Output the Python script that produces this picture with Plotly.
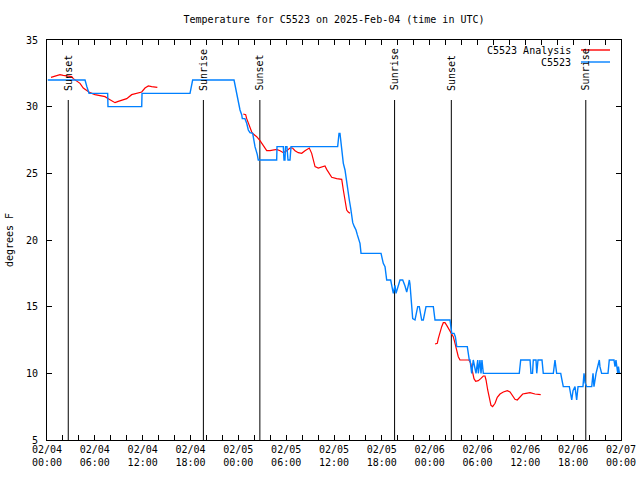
import pandas as pd
import plotly.graph_objects as go

BASE = pd.Timestamp("2025-02-04 00:00")

# C5523 observations: hours since 2025-02-04 00:00 UTC, temperature (F)
obs_hours = [0.1, 4.77, 5.0, 5.27, 7.61, 7.65, 11.88, 11.92, 17.94, 18.15, 18.27, 23.46,
             23.58, 23.79, 23.92, 24.05, 24.21, 24.42, 24.50, 24.83, 25.05, 25.25, 25.46, 25.80,
             26.09, 26.38, 26.5, 28.81, 28.85, 29.64, 29.73, 29.85, 29.92, 30.1, 30.23, 30.48,
             30.61, 36.46, 36.63, 36.75, 36.97, 37.17, 37.38, 37.51, 37.67, 37.79, 37.92, 38.09,
             38.22, 38.35, 38.55, 38.76, 38.92, 39.14, 39.26, 39.39, 41.9, 41.99, 42.18, 42.40,
             42.52, 42.61, 43.11, 43.24, 43.36, 43.44, 43.65, 43.78, 44.28, 44.62, 44.91, 45.12,
             45.32, 45.45, 45.53, 45.75, 45.87, 46.16, 46.37, 46.5, 46.7, 46.91, 47.0, 47.2,
             47.41, 47.54, 48.46, 48.58, 48.67, 50.55, 50.64, 50.77, 51.06, 51.22, 51.4, 52.72,
             52.97, 53.06, 53.27, 53.47, 53.81, 54.03, 54.1, 54.31, 54.44, 54.56, 54.73, 59.24,
             59.42, 60.59, 60.71, 60.9, 61.0, 61.34, 61.43, 61.59, 62.09, 62.25, 63.51, 63.72,
             63.93, 64.44, 64.56, 64.76, 65.52, 65.61, 65.82, 65.98, 66.23, 66.44, 66.61, 67.23,
             67.36, 67.49, 67.70, 68.33, 68.49, 68.61, 68.87, 69.28, 69.36, 69.57, 70.37, 70.53,
             71.12, 71.25, 71.37, 71.59, 71.68, 71.8, 72.0]
obs_temp = [32, 32, 31.5, 31, 31, 30, 30, 31, 31, 31.6, 32, 32,
            31.6, 31.1, 30.6, 30.25, 29.75, 29.4, 29.1, 29.1, 28.75, 28.25, 28.05, 28.0,
            27.0, 26.4, 26.0, 26, 27, 27, 26, 26, 27, 27, 26, 26,
            27, 27, 28, 28, 26.5, 25.75, 25.25, 24.6, 24.0, 23.6, 23.0, 22.4,
            21.9, 21.3, 21.0, 20.75, 20.4, 20.0, 19.75, 19.0, 19, 18.75, 18.25, 18.0,
            17.5, 17.0, 17, 16.5, 16.0, 16, 16.6, 16, 17, 17, 16.55, 16.1,
            16.6, 17, 16.7, 14.75, 14.1, 14, 14.75, 15, 15, 14.4, 14, 14,
            14.75, 15, 15, 14.5, 14, 14, 13.4, 13, 13, 12.75, 12, 12,
            11, 11, 10, 11, 10, 11, 10, 11, 10, 11, 10, 10,
            11, 11, 10, 10, 11, 11, 10, 11, 11, 10, 10, 11,
            10, 10, 9.6, 9, 9, 8.6, 8, 8.7, 9, 8, 9, 9,
            10, 9.3, 9, 9, 10, 9, 10, 11, 10.5, 10, 10, 11,
            11, 10.5, 11, 10, 10.5, 10, 10]

# C5523 Analysis: three separate runs
ana1_hours = [0.5, 1.0, 1.63, 2.04, 2.47, 3.1, 3.3, 3.73, 4.14, 4.55, 4.98, 5.39, 6.02, 6.65,
              7.28, 7.69, 8.12, 8.53, 8.94, 9.37, 10.0, 10.62, 11.25, 11.88, 12.29, 12.71,
              13.13, 13.84]
ana1_temp = [32.2, 32.3, 32.4, 32.35, 32.3, 32.25, 32.1, 31.95, 31.75, 31.4, 31.25, 31.05,
             30.9, 30.8, 30.75, 30.6, 30.45, 30.3, 30.4, 30.5, 30.6, 30.9, 31.0, 31.1, 31.4,
             31.55, 31.5, 31.45]
ana2_hours = [24.62, 24.92, 25.05, 25.25, 25.46, 25.68, 25.88, 26.3, 26.72, 27.13, 27.56,
              27.97, 28.39, 28.81, 29.23, 29.64, 30.07, 30.48, 30.8, 31.11, 31.52, 31.95,
              32.36, 32.9, 33.2, 33.4, 33.62, 34.03, 34.46, 34.87, 35.08, 35.5, 35.71, 36.34,
              36.97, 37.17, 37.38, 37.59, 37.79, 38.0]
ana2_temp = [29.45, 29.4, 29.1, 28.75, 28.4, 28.1, 27.95, 27.75, 27.45, 27.1, 26.7, 26.7,
             26.75, 26.8, 26.7, 26.55, 26.7, 26.9, 26.9, 26.7, 26.55, 26.5, 26.7, 26.9, 26.5,
             26.0, 25.5, 25.4, 25.5, 25.55, 25.3, 24.95, 24.7, 24.6, 24.55, 23.75, 22.9,
             22.25, 22.1, 22.0]
ana3_hours = [48.67, 48.96, 49.08, 49.3, 49.51, 49.71, 49.92, 50.14, 50.34, 50.55, 50.76,
              50.96, 51.18, 51.39, 51.59, 51.8, 52.22, 52.64, 52.93, 53.15, 53.35, 53.56,
              53.77, 54.1, 54.4, 54.73, 54.94, 55.07, 55.28, 55.48, 55.69, 55.9, 56.2, 56.48,
              56.82, 57.24, 57.74, 58.08, 58.42, 58.7, 58.99, 59.33, 59.67, 60.08, 60.59,
              61.21, 61.63, 61.93]
ana3_temp = [12.2, 12.25, 12.6, 13.1, 13.5, 13.8, 13.8, 13.6, 13.4, 13.1, 12.95, 12.75,
             12.25, 11.6, 11.25, 11.0, 11.0, 11.05, 11.0, 10.75, 10.1, 9.6, 9.4, 9.45, 9.6,
             9.8, 9.8, 9.5, 8.75, 8.1, 7.6, 7.5, 7.75, 8.2, 8.45, 8.6, 8.7, 8.6, 8.3, 8.05,
             8.0, 8.2, 8.45, 8.5, 8.55, 8.45, 8.4, 8.4]

sun_labels = ["Sunset", "Sunrise", "Sunset", "Sunrise", "Sunset", "Sunrise"]
sun_times = ["2025-02-04 02:40", "2025-02-04 19:37", "2025-02-05 02:42",
             "2025-02-05 19:36", "2025-02-06 02:43", "2025-02-06 19:35"]
SUN_LINE_TOP = 30.5

tick_times = pd.date_range("2025-02-04 00:00", "2025-02-07 00:00", freq="6h")
y_ticks = [5, 10, 15, 20, 25, 30, 35]


def to_time(hours):
    return [BASE + pd.Timedelta(hours=h) for h in hours]


FONT = "DejaVu Sans Mono"
RED = "#ff0000"
BLUE = "#0080ff"

fig = go.Figure()

# sunrise / sunset vertical lines
sx, sy = [], []
for t in sun_times:
    sx += [pd.Timestamp(t), pd.Timestamp(t), None]
    sy += [5, SUN_LINE_TOP, None]
fig.add_trace(go.Scatter(x=sx, y=sy, mode="lines", line=dict(color="black", width=1),
                         showlegend=False, hoverinfo="skip"))

ax, ay = [], []
for hrs, tmp in [(ana1_hours, ana1_temp), (ana2_hours, ana2_temp), (ana3_hours, ana3_temp)]:
    ax += to_time(hrs) + [None]
    ay += tmp + [None]
fig.add_trace(go.Scatter(x=ax, y=ay, mode="lines", name="C5523 Analysis",
                         line=dict(color=RED, width=1.2), connectgaps=False, showlegend=False))
fig.add_trace(go.Scatter(x=to_time(obs_hours), y=obs_temp, mode="lines", name="C5523",
                         line=dict(color=BLUE, width=1.4), showlegend=False))

for lab, t in zip(sun_labels, sun_times):
    fig.add_annotation(x=pd.Timestamp(t), y=SUN_LINE_TOP + 0.55, xref="x", yref="y",
                       text=lab, textangle=-90, showarrow=False,
                       xanchor="center", yanchor="bottom",
                       font=dict(family=FONT, size=10, color="black"))

# gnuplot-style legend: text then line sample
L, T, PW, PH = 47, 40, 574, 400
legend_items = [("C5523 Analysis", RED, 50), ("C5523", BLUE, 62)]
for name, col, py in legend_items:
    fig.add_annotation(x=(573 - L) / PW, y=(T + PH - py) / PH, xref="paper", yref="paper",
                       text=name, showarrow=False, xanchor="right", yanchor="middle",
                       font=dict(family=FONT, size=10, color="black"))
    fig.add_shape(type="line", xref="paper", yref="paper",
                  x0=(581 - L) / PW, x1=(610 - L) / PW,
                  y0=(T + PH - py) / PH, y1=(T + PH - py) / PH,
                  line=dict(color=col, width=1.4))

fig.update_layout(
    width=640, height=480,
    margin=dict(l=47, r=19, t=40, b=40),
    paper_bgcolor="white", plot_bgcolor="white",
    font=dict(family=FONT, size=10, color="black"),
    title=dict(text="Temperature for C5523 on 2025-Feb-04 (time in UTC)",
               x=0.5, xref="paper", xanchor="center",
               y=1 - 19 / 480, yref="container", yanchor="middle",
               font=dict(family=FONT, size=10, color="black")),
    showlegend=False,
)
fig.update_xaxes(
    type="date", automargin=False,
    range=[tick_times[0], tick_times[-1]],
    tickvals=list(tick_times),
    ticktext=[t.strftime("%m/%d<br>%H:%M") for t in tick_times],
    ticks="inside", ticklen=5, tickcolor="black",
    minor=dict(dtick=2 * 3600 * 1000, ticks="inside", ticklen=5, tickcolor="black"),
    showline=True, linecolor="black", linewidth=1, mirror="ticks",
    showgrid=False, zeroline=False,
    tickfont=dict(family=FONT, size=10, color="black"),
)
fig.update_yaxes(
    automargin=False,
    range=[5, 35],
    tickvals=y_ticks,
    ticks="inside", ticklen=5, tickcolor="black",
    ticklabelstandoff=6,
    showline=True, linecolor="black", linewidth=1, mirror="ticks",
    showgrid=False, zeroline=False,
    tickfont=dict(family=FONT, size=10, color="black"),
    title=dict(text="degrees F", standoff=10, font=dict(family=FONT, size=10, color="black")),
)

fig.write_html("out.html")
